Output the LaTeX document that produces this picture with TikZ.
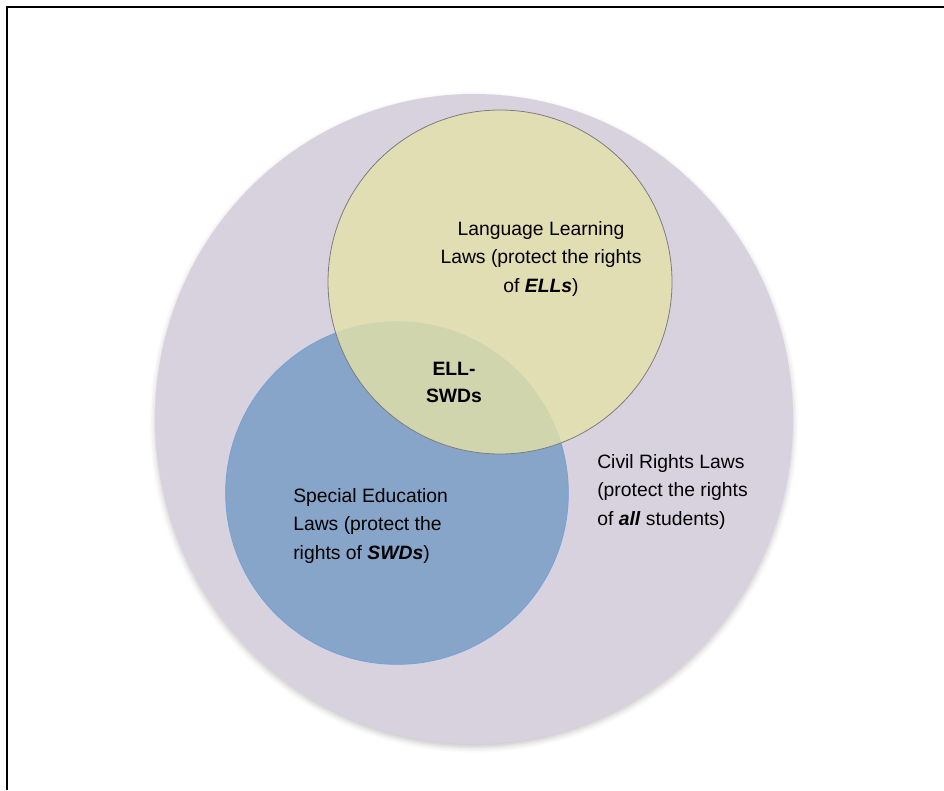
\documentclass[tikz,border=0pt]{standalone}
\usepackage{fontspec}
\setmainfont{Liberation Sans}
\usetikzlibrary{shapes.geometric,shadows.blur}
\definecolor{civilfill}{RGB}{216,210,223}
\definecolor{langfill}{RGB}{228,226,168}
\definecolor{langedge}{RGB}{125,125,125}
\definecolor{specfill}{RGB}{135,165,201}
\definecolor{specedge}{RGB}{118,160,218}
\begin{document}
\begin{tikzpicture}[x=0.75pt,y=-0.75pt,
	lawtext/.style={inner sep=0pt, font=\fontsize{14.5}{21.4}\selectfont},
	lawset/.style={circle, inner sep=0pt}]
	\useasboundingbox (0,0) rectangle (944,790);
	\draw [line width=1.5pt] (7,790) -- (7,7) -- (944,7); %
	
	\node [ellipse, inner sep=0pt, fill=civilfill, minimum width=478.5pt, minimum height=487.5pt,
		blur shadow={shadow xshift=0pt, shadow yshift=-2.5pt, shadow blur radius=4pt, shadow opacity=22}] (civil) at (474,419) {};
	\node [lawset, fill=specfill, draw=specedge, line width=0.6pt, minimum size=257pt] (spec) at (397,493) {};
	\node [lawset, fill=langfill, fill opacity=0.8, draw=langedge, line width=0.6pt, minimum size=258pt] (lang) at (500,282) {};
	
	\node [lawtext, anchor=north, align=center] (langtext) at (541,221)
		{Language Learning\\Laws (protect the rights\\of \textbf{\textit{ELLs}})};
	\node [lawtext, anchor=north west, align=left] (spectext) at (293,488)
		{Special Education\\Laws (protect the\\rights of \textbf{\textit{SWDs}})};
	\node [lawtext, anchor=north west, align=left] (civiltext) at (597,454)
		{Civil Rights Laws\\(protect the rights\\of \textbf{\textit{all}} students)};
	\node [lawtext, align=center, font=\fontsize{14.5}{20.3}\selectfont\bfseries] (both) at (454,382) {ELL-\\SWDs};
	
\end{tikzpicture}
\end{document}
